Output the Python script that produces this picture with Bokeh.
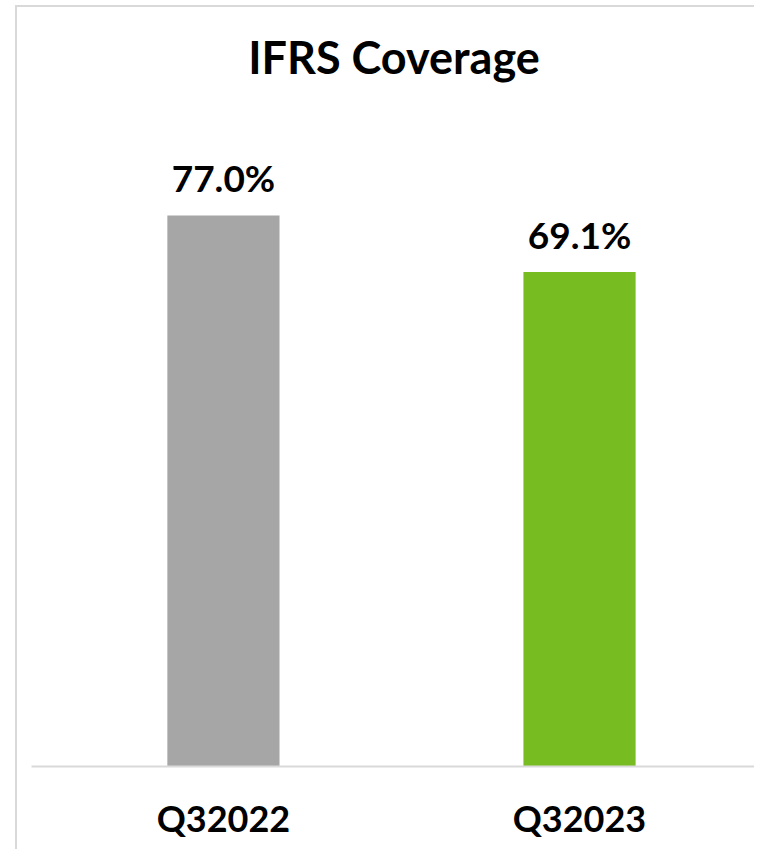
from bokeh.plotting import figure
from bokeh.models import Range1d, FixedTicker, ColumnDataSource
from bokeh.core.properties import value
from bokeh.embed import file_html
from bokeh.resources import INLINE

# ---- data ----
categories = ["Q32022", "Q32023"]
coverage = [77.0, 69.1]
bar_colors = ["#A6A6A6", "#77BC21"]
title_text = "IFRS Coverage"

x_pos = [i + 0.5 for i in range(len(categories))]
value_labels = [f"{v:.1f}%" for v in coverage]
src = ColumnDataSource(dict(x=x_pos, top=coverage, color=bar_colors, label=value_labels))

FONT = "Lato"

p = figure(
    width=739, height=844,
    output_backend="svg", toolbar_location=None,
    x_range=Range1d(-0.039, 1.997), y_range=Range1d(0, 92.93),
    min_border_left=14, min_border_right=0, min_border_top=94, min_border_bottom=85,
    styles={"border-top": "2px solid #D9D9D9", "border-left": "2px solid #D9D9D9",
            "border-right": "none", "border-bottom": "none",
            "outline": "none", "box-shadow": "none"},
    margin=(5, 0, 0, 15),
)

p.title.text = title_text
p.title.align = "center"
p.title.text_font = FONT
p.title.text_font_size = "45px"
p.title.text_font_style = "bold"
p.title.text_color = "black"
p.title.standoff = 36
p.title.offset = 6

p.vbar(x="x", top="top", width=0.315, bottom=0, color="color", line_color=None, source=src)
p.text(x="x", y="top", text="label", source=src, y_offset=-38,
       text_align="center", text_baseline="alphabetic",
       text_font=value(FONT), text_font_size="37px", text_font_style="bold",
       text_color="black")

p.xaxis.ticker = FixedTicker(ticks=x_pos)
p.xaxis.major_label_overrides = {x: c for x, c in zip(x_pos, categories)}
p.xaxis.axis_line_color = "#D9D9D9"
p.xaxis.axis_line_width = 2
p.xaxis.major_tick_line_color = None
p.xaxis.minor_tick_line_color = None
p.xaxis.major_label_text_font = FONT
p.xaxis.major_label_text_font_size = "36px"
p.xaxis.major_label_text_font_style = "bold"
p.xaxis.major_label_text_color = "black"
p.xaxis.major_label_standoff = 23

p.yaxis.visible = False
p.xgrid.grid_line_color = None
p.ygrid.grid_line_color = None
p.outline_line_color = None

open("out.html", "w").write(file_html(p, INLINE))
